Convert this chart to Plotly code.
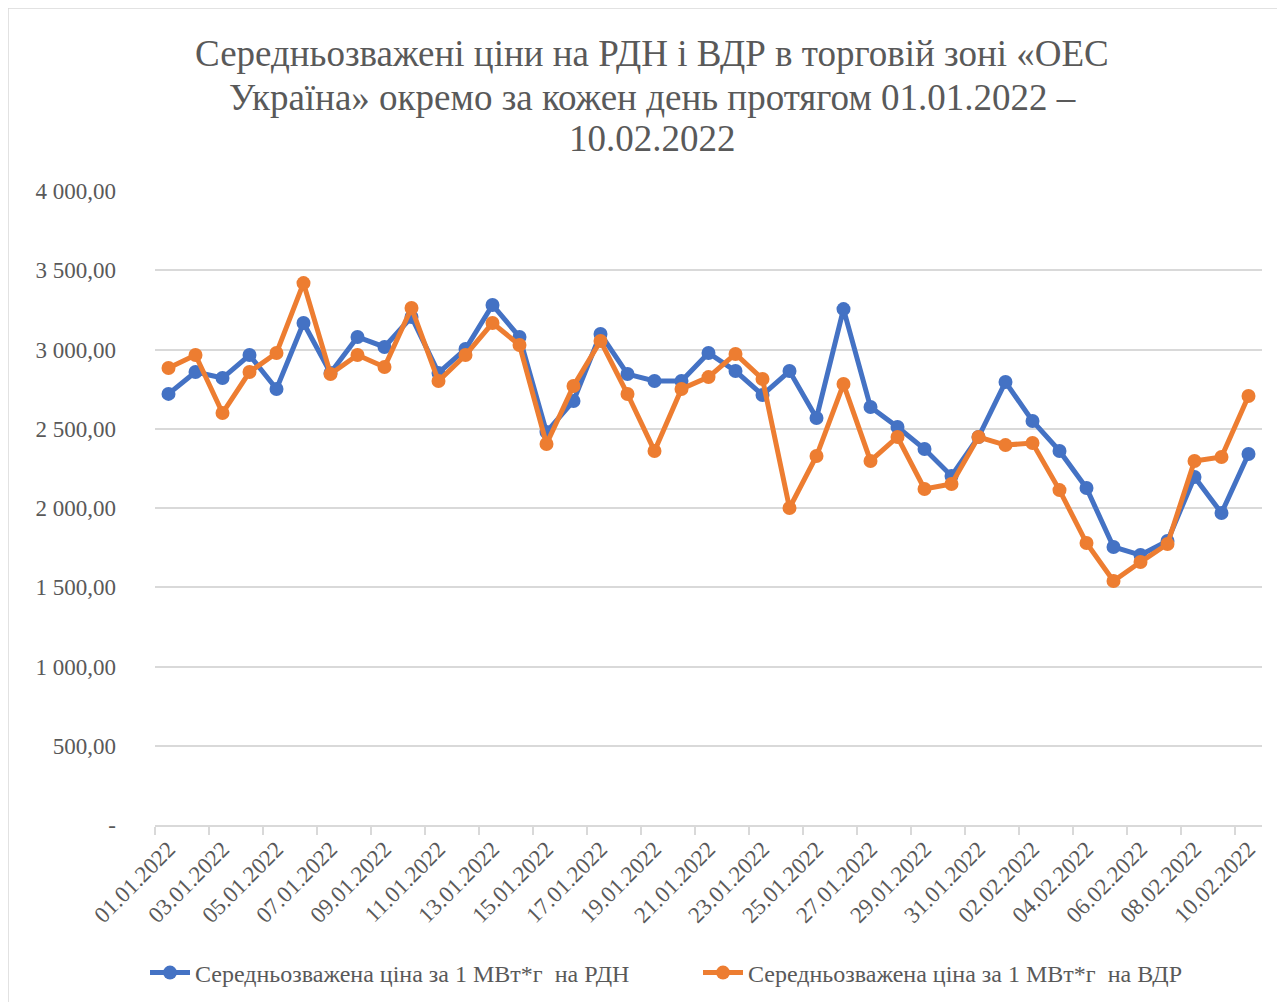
import plotly.graph_objects as go

dates = ["01.01.2022","02.01.2022","03.01.2022","04.01.2022","05.01.2022","06.01.2022","07.01.2022",
         "08.01.2022","09.01.2022","10.01.2022","11.01.2022","12.01.2022","13.01.2022","14.01.2022",
         "15.01.2022","16.01.2022","17.01.2022","18.01.2022","19.01.2022","20.01.2022","21.01.2022",
         "22.01.2022","23.01.2022","24.01.2022","25.01.2022","26.01.2022","27.01.2022","28.01.2022",
         "29.01.2022","30.01.2022","31.01.2022","01.02.2022","02.02.2022","03.02.2022","04.02.2022",
         "05.02.2022","06.02.2022","07.02.2022","08.02.2022","09.02.2022","10.02.2022"]

rdn = [2720, 2858, 2820, 2965, 2751, 3167, 2852, 3079, 3016, 3205, 2852, 3003, 3281, 3079,
       2479, 2675, 3098, 2845, 2801, 2801, 2978, 2864, 2713, 2864, 2568, 3255, 2637, 2511,
       2372, 2202, 2448, 2795, 2549, 2360, 2126, 1754, 1703, 1792, 2196, 1968, 2341]

vdr = [2883, 2965, 2599, 2858, 2978, 3419, 2845, 2965, 2890, 3262, 2801, 2965, 3167, 3028,
       2404, 2770, 3054, 2719, 2360, 2751, 2826, 2972, 2814, 2000, 2328, 2782, 2297, 2448,
       2120, 2151, 2448, 2397, 2410, 2113, 1779, 1539, 1659, 1773, 2297, 2322, 2707]

y_ticks = [0, 500, 1000, 1500, 2000, 2500, 3000, 3500, 4000]
y_tick_text = ["-", "500,00", "1 000,00", "1 500,00", "2 000,00", "2 500,00", "3 000,00", "3 500,00", "4 000,00"]

name_rdn = "Середньозважена ціна за 1 МВт*г  на РДН"
name_vdr = "Середньозважена ціна за 1 МВт*г  на ВДР"
title_lines = ["Середньозважені ціни на РДН і ВДР в торговій зоні «ОЕС",
               "Україна» окремо за кожен день протягом 01.01.2022 –",
               "10.02.2022"]

xs = list(range(len(dates)))
serif = "Liberation Serif, Times New Roman, serif"
grey = "#595959"
gridc = "#d9d9d9"

OFF = 8  # page body margin
W, H = 1285, 1002
L, R, T, B = 147, 31, 183, 185
pw, ph = W - L - R, H - T - B

def px_x(p):
    return (p - OFF - L) / pw

def px_y(p):
    return (H - B - (p - OFF)) / ph

fig = go.Figure()
fig.add_trace(go.Scatter(x=xs, y=rdn, name=name_rdn, mode="lines+markers",
                         line=dict(color="#4472C4", width=5),
                         marker=dict(color="#4472C4", size=14), legend="legend"))
fig.add_trace(go.Scatter(x=xs, y=vdr, name=name_vdr, mode="lines+markers",
                         line=dict(color="#ED7D31", width=5),
                         marker=dict(color="#ED7D31", size=14), legend="legend2"))

leg_common = dict(orientation="h", yanchor="middle", y=px_y(973), xanchor="left",
                  font=dict(family=serif, size=24, color=grey), itemwidth=40,
                  bgcolor="rgba(0,0,0,0)")

fig.update_layout(
    width=W, height=H,
    margin=dict(l=L, r=R, t=T, b=B),
    paper_bgcolor="white", plot_bgcolor="white",
    font=dict(family=serif, color=grey),
    showlegend=True,
    legend=dict(x=px_x(145), **leg_common),
    legend2=dict(x=px_x(698), **leg_common),
    xaxis=dict(range=[-0.5, 40.5], tickmode="array", tickvals=xs[::2],
               ticktext=dates[::2], tickangle=-45, ticks="", automargin=False,
               tickfont=dict(family=serif, size=23, color=grey),
               showgrid=False, zeroline=False, showline=True, linecolor=gridc, linewidth=1.5,
               minor=dict(tickmode="array", tickvals=[i - 0.5 for i in range(0, 42, 2)],
                          ticks="outside", ticklen=8, tickcolor=gridc, tickwidth=1.5,
                          showgrid=False)),
    yaxis=dict(range=[0, 4000], tickmode="array", tickvals=y_ticks, ticktext=y_tick_text,
               tickfont=dict(family=serif, size=23, color=grey), automargin=False,
               showgrid=True, gridcolor=gridc, gridwidth=1.5, zeroline=False,
               showline=False, ticks="", ticklabelstandoff=38),
)

for line, ypx in zip(title_lines, [53, 97, 138]):
    fig.add_annotation(text=line, xref="paper", yref="paper", x=px_x(652), y=px_y(ypx),
                       xanchor="center", yanchor="middle", showarrow=False,
                       font=dict(family=serif, size=37, color=grey))

fig.add_shape(type="rect", xref="paper", yref="paper",
              x0=px_x(8), x1=px_x(1305), y0=px_y(1030), y1=px_y(8),
              line=dict(color=gridc, width=1.5), fillcolor="rgba(0,0,0,0)", layer="below")

fig.write_html("out.html")
